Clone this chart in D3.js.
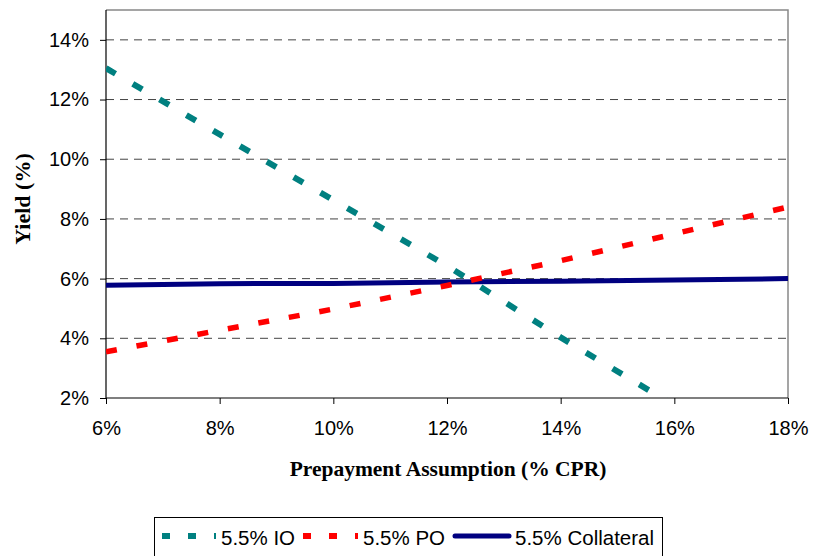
<!DOCTYPE html>
<html>
<head>
<meta charset="utf-8">
<script src="https://cdn.jsdelivr.net/npm/d3@7"></script>
<style>
  html, body { margin: 0; padding: 0; background: #fff; }
  svg { display: block; }
</style>
</head>
<body>
<svg id="chart" width="817" height="556"></svg>
<script>
// Prepayment speed (% CPR) on the x axis
const cpr = [6, 8, 10, 12, 14, 16, 18];
// Yields (%) for each strip at each prepayment speed
const ioYield = [13.05, 10.83, 8.63, 6.43, 4.03, 1.75];
const poYield = [3.55, 4.27, 4.98, 5.77, 6.6, 7.5, 8.4];
const collateralYield = [5.78, 5.83, 5.84, 5.89, 5.91, 5.95, 6.0];
const xTicks = [6, 8, 10, 12, 14, 16, 18];
const yTicks = [2, 4, 6, 8, 10, 12, 14];
const seriesNames = ["5.5% IO", "5.5% PO", "5.5% Collateral"];

const svg = d3.select("#chart");
const plotLeft = 106, plotRight = 788, plotTop = 10, plotBottom = 398;

const x = d3.scaleLinear().domain([6, 18]).range([plotLeft, plotRight]);
const y = d3.scaleLinear().domain([2, 15]).range([plotBottom, plotTop]);

// Gridlines
svg.append("g")
  .selectAll("line")
  .data(yTicks.filter(v => v > 2))
  .join("line")
  .attr("x1", plotLeft).attr("x2", plotRight)
  .attr("y1", d => y(d)).attr("y2", d => y(d))
  .attr("stroke", "#444")
  .attr("stroke-width", 1)
  .attr("stroke-dasharray", "8,6");

// Plot frame (top and right)
svg.append("path")
  .attr("d", `M${plotLeft},${plotTop}H${plotRight}V${plotBottom}`)
  .attr("fill", "none")
  .attr("stroke", "#888")
  .attr("stroke-width", 1.5);

// Axes
const yAxis = svg.append("g")
  .attr("transform", `translate(${plotLeft},0)`)
  .call(d3.axisLeft(y).tickValues(yTicks).tickSize(6).tickSizeOuter(0)
    .tickFormat(d => d + "%"));
const xAxis = svg.append("g")
  .attr("transform", `translate(0,${plotBottom})`)
  .call(d3.axisBottom(x).tickValues(xTicks).tickSize(6).tickSizeOuter(0)
    .tickFormat(d => d + "%"));

[yAxis, xAxis].forEach(g => {
  g.select(".domain").attr("stroke", "#000").attr("stroke-width", 1.2);
  g.selectAll(".tick line").attr("stroke", "#000");
  g.selectAll(".tick text")
    .attr("font-family", "Liberation Sans, Arial, sans-serif")
    .attr("font-size", 20)
    .attr("fill", "#000");
});
yAxis.selectAll(".tick text").attr("x", -17);
xAxis.selectAll(".tick text").attr("y", 23);
// Axis lines run the full extent of the plot
yAxis.select(".domain").attr("d", `M0,${plotTop}V${plotBottom}`);
xAxis.select(".domain").attr("d", `M${plotLeft},0H${plotRight}`);

// Axis titles
svg.append("text")
  .attr("x", 448).attr("y", 476)
  .attr("text-anchor", "middle")
  .attr("font-family", "Liberation Serif, Times New Roman, serif")
  .attr("font-weight", "bold")
  .attr("font-size", 21.5)
  .text("Prepayment Assumption (% CPR)");

svg.append("text")
  .attr("transform", "translate(30,199) rotate(-90)")
  .attr("text-anchor", "middle")
  .attr("font-family", "Liberation Serif, Times New Roman, serif")
  .attr("font-weight", "bold")
  .attr("font-size", 22)
  .text("Yield (%)");

// Series
svg.append("clipPath").attr("id", "plotClip")
  .append("rect")
  .attr("x", plotLeft).attr("y", plotTop)
  .attr("width", plotRight - plotLeft).attr("height", plotBottom - plotTop);

const line = d3.line().x((d, i) => x(cpr[i])).y(d => y(d));
const plot = svg.append("g").attr("clip-path", "url(#plotClip)");

plot.append("path").datum(collateralYield)
  .attr("d", line).attr("fill", "none")
  .attr("stroke", "#000080").attr("stroke-width", 5);

plot.append("path").datum(poYield)
  .attr("d", line).attr("fill", "none")
  .attr("stroke", "#ff0000").attr("stroke-width", 5.5)
  .attr("stroke-dasharray", "11,20");

plot.append("path").datum(ioYield)
  .attr("d", line).attr("fill", "none")
  .attr("stroke", "#008080").attr("stroke-width", 6)
  .attr("stroke-dasharray", "11,20");

// Legend
const legend = svg.append("g");
legend.append("rect")
  .attr("x", 154.5).attr("y", 517.5)
  .attr("width", 508).attr("height", 60)
  .attr("fill", "#fff").attr("stroke", "#000").attr("stroke-width", 1);

const legendItems = [
  { name: seriesNames[0], color: "#008080", dash: "8,18", width: 6, x0: 162, x1: 216, tx: 221 },
  { name: seriesNames[1], color: "#ff0000", dash: "8,18", width: 6, x0: 303, x1: 358, tx: 363 },
  { name: seriesNames[2], color: "#000080", dash: null, width: 5, x0: 455, x1: 509, tx: 515 }
];
const ly = 536;
legendItems.forEach(it => {
  legend.append("line")
    .attr("x1", it.x0).attr("x2", it.x1)
    .attr("y1", ly).attr("y2", ly)
    .attr("stroke", it.color).attr("stroke-width", it.width)
    .attr("stroke-linecap", it.dash ? "butt" : "round")
    .attr("stroke-dasharray", it.dash);
  legend.append("text")
    .attr("x", it.tx).attr("y", 545)
    .attr("font-family", "Liberation Sans, Arial, sans-serif")
    .attr("font-size", 20.5)
    .attr("fill", "#000")
    .text(it.name);
});
</script>
</body>
</html>
